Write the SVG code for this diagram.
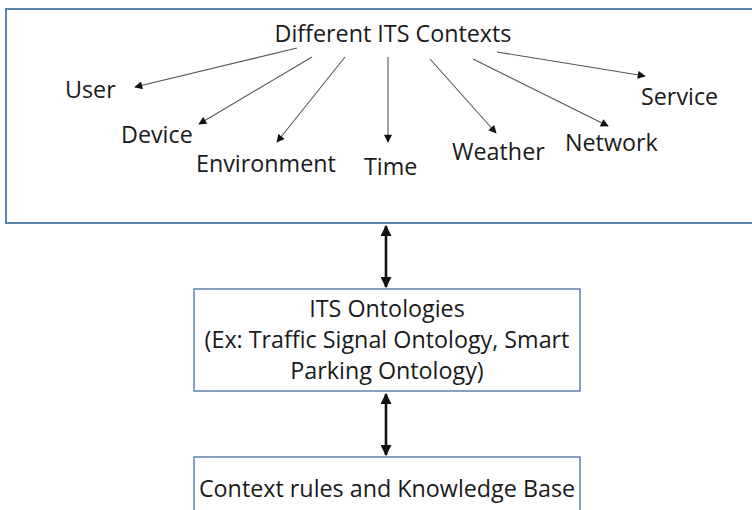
<svg xmlns="http://www.w3.org/2000/svg" width="752" height="510" viewBox="0 0 752 510">
  <style>
    .box { fill: #ffffff; stroke: #5b84b1; }
    .lbl { font-family: "Open Sans", "Liberation Sans", sans-serif; font-size: 23.3px; fill: #1a1a1a; }
    .mid { text-anchor: middle; }
    .thin { stroke: #555555; stroke-width: 1.1; fill: none; marker-end: url(#tip); }
    .bold { stroke: #111111; stroke-width: 2.6; fill: none; marker-start: url(#big); marker-end: url(#big); }
  </style>
  <defs>
    <marker id="tip" viewBox="0 0 10 10" refX="9" refY="5" markerWidth="10" markerHeight="8" markerUnits="userSpaceOnUse" orient="auto">
      <path d="M0,0 L10,5 L0,10 z" fill="#111111"/>
    </marker>
    <marker id="big" viewBox="0 0 10 10" refX="9" refY="5" markerWidth="11" markerHeight="11" markerUnits="userSpaceOnUse" orient="auto-start-reverse">
      <path d="M0,0 L10,5 L0,10 z" fill="#111111"/>
    </marker>
  </defs>

  <rect width="752" height="510" fill="#ffffff"/>

  <g id="contexts">
    <rect class="box" x="6" y="9" width="752" height="214" stroke-width="2"/>
    <text class="lbl mid" x="393" y="42">Different ITS Contexts</text>
  </g>
  <g id="user"><text class="lbl" x="65" y="98">User</text></g>
  <g id="device"><text class="lbl" x="121" y="143">Device</text></g>
  <g id="environment"><text class="lbl" x="196" y="172">Environment</text></g>
  <g id="time"><text class="lbl" x="364" y="175">Time</text></g>
  <g id="weather"><text class="lbl" x="452" y="160">Weather</text></g>
  <g id="network"><text class="lbl" x="565" y="151">Network</text></g>
  <g id="service"><text class="lbl" x="641" y="105">Service</text></g>

  <g id="ontologies">
    <rect class="box" x="194" y="289" width="386" height="102" stroke-width="1.5"/>
    <text class="lbl mid" x="387" y="317">ITS Ontologies</text>
    <text class="lbl mid" x="387" y="348">(Ex: Traffic Signal Ontology, Smart</text>
    <text class="lbl mid" x="387" y="379">Parking Ontology)</text>
  </g>

  <g id="knowledge">
    <rect class="box" x="194" y="457" width="386" height="70" stroke-width="1.5"/>
    <text class="lbl mid" x="387" y="497">Context rules and Knowledge Base</text>
  </g>

  <g id="connectors">
    <line class="thin" x1="297" y1="48" x2="135" y2="87"/>
    <line class="thin" x1="312" y1="57" x2="199" y2="124"/>
    <line class="thin" x1="345" y1="57" x2="277" y2="142"/>
    <line class="thin" x1="388" y1="57" x2="388" y2="142"/>
    <line class="thin" x1="430" y1="59" x2="496" y2="133"/>
    <line class="thin" x1="473" y1="59" x2="608" y2="126"/>
    <line class="thin" x1="497" y1="52" x2="645" y2="76"/>
    <line class="bold" x1="386" y1="226" x2="386" y2="287"/>
    <line class="bold" x1="386" y1="394" x2="386" y2="455"/>
  </g>
</svg>
